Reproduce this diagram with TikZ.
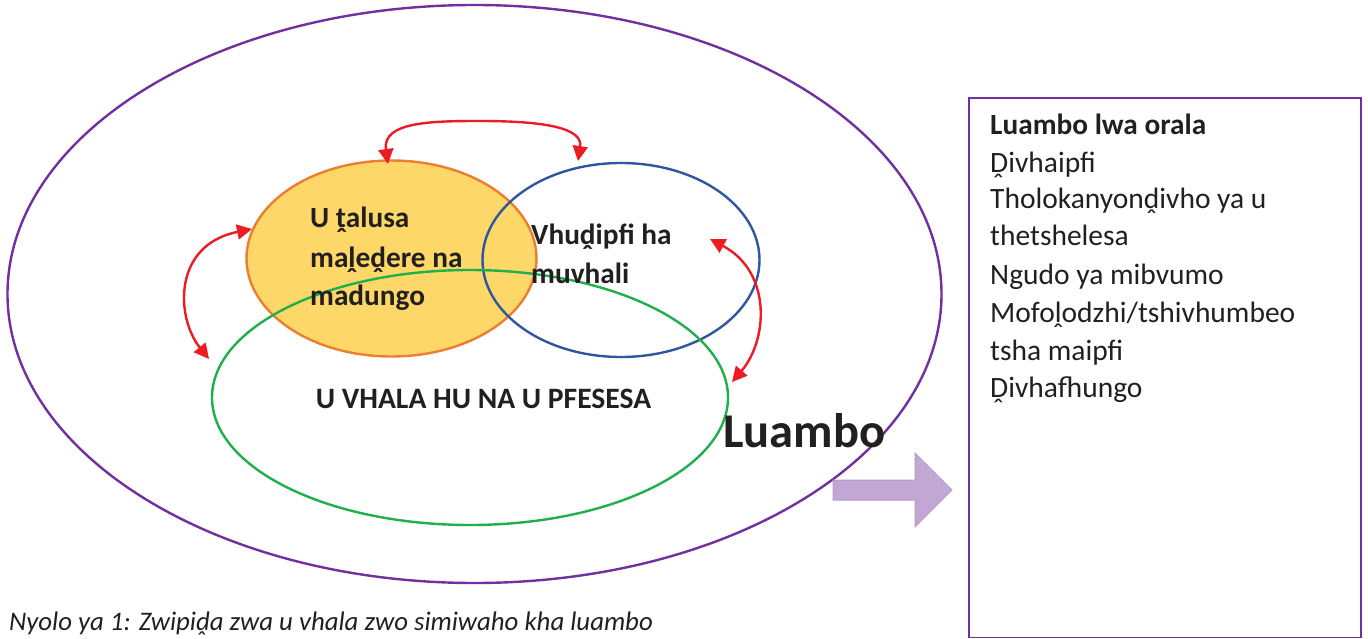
\documentclass[tikz,border=0pt]{standalone}
\usepackage{fontspec}
\setmainfont{Carlito}
\usetikzlibrary{shapes.geometric,arrows.meta}
\definecolor{outerpurple}{HTML}{7030A0}
\definecolor{orangeline}{HTML}{ED7D31}
\definecolor{goldfill}{HTML}{FDD868}
\definecolor{blueline}{HTML}{2F569E}
\definecolor{greenline}{HTML}{1FAF4B}
\definecolor{redarrow}{HTML}{ED1C24}
\definecolor{txt}{HTML}{231F20}
\definecolor{arrowfill}{HTML}{C2A6D4}
\definecolor{arrowline}{HTML}{B89BCB}
\tikzset{
  ring/.style={ellipse, inner sep=0pt, line width=2.4pt},
  link/.style={draw=redarrow, line width=2.4pt, {Triangle[length=15pt,width=15pt]}-{Triangle[length=15pt,width=15pt]}},
  boldtext/.style={anchor=base west, inner sep=0pt, text=txt, font=\bfseries\fontsize{29.3}{29.3}\selectfont},
  boxtext/.style={anchor=base west, inner sep=0pt, text=txt, font=\fontsize{29.5}{29.5}\selectfont},
}
\begin{document}
\begin{tikzpicture}[x=1pt,y=-1pt]
\useasboundingbox (0,0) rectangle (1368,639);
% outer ellipse
\node[ring, draw=outerpurple, minimum width=934pt, minimum height=578pt] (outer) at (474.5,294) {};
% gold ellipse
\node[ring, draw=orangeline, fill=goldfill, minimum width=290pt, minimum height=196pt] (gold) at (391.5,258.5) {};
% blue ellipse
\node[ring, draw=blueline, minimum width=277pt, minimum height=194pt] (blue) at (621,260) {};
% green ellipse
\node[ring, draw=greenline, minimum width=516pt, minimum height=255pt] (green) at (470,397.5) {};
% texts in ellipses
\node[boldtext] (t1) at (310,228) {U ṱalusa};
\node[boldtext] (t2) at (310,267) {maḽeḓere na};
\node[boldtext] (t3) at (310,305) {madungo};
\node[boldtext] (t4) at (531,244) {Vhuḓipfi ha};
\node[boldtext] (t5) at (531,283) {muvhali};
\node[anchor=base, inner sep=0pt, text=txt, font=\bfseries\fontsize{29.6}{29.6}\selectfont] (t6) at (483.5,408) {U VHALA HU NA U PFESESA};
\node[anchor=base west, inner sep=0pt, text=txt, font=\bfseries\fontsize{48.5}{48.5}\selectfont] (lu) at (723,447) {Luambo};
% red arrows
\coordinate (a1s) at (388,164);
\coordinate (a1e) at (578,161);
\draw[link] (a1s) .. controls (382,122) and (430,121) .. (480,121) .. controls (545,121) and (583,128) .. (a1e);
\coordinate (a2s) at (252,229);
\coordinate (a2e) at (209,359);
\draw[link] (a2s) .. controls (172,245) and (176,318) .. (a2e);
\coordinate (a3s) at (710,239);
\coordinate (a3e) at (732,382);
\draw[link] (a3s) .. controls (772,272) and (768,340) .. (a3e);
% side box
\node[draw=outerpurple, line width=1.6pt, minimum width=392pt, minimum height=539pt, inner sep=0pt, anchor=north west] (box) at (968,97.5) {};
\node[boxtext, font=\bfseries\fontsize{29.3}{29.3}\selectfont] (b1) at (990,135) {Luambo lwa orala};
\node[boxtext] (b2) at (990,173) {Ḓivhaipfi};
\node[boxtext] (b3) at (990,209) {Tholokanyonḓivho ya u};
\node[boxtext] (b4) at (990,246) {thetshelesa};
\node[boxtext] (b5) at (990,284) {Ngudo ya mibvumo};
\node[boxtext] (b6) at (990,322) {Mofoḽodzhi/tshivhumbeo};
\node[boxtext] (b7) at (990,360) {tsha maipfi};
\node[boxtext] (b8) at (990,397) {Ḓivhafhungo};
% block arrow
\coordinate (tip) at (952,490);
\filldraw[draw=arrowline, fill=arrowfill, line width=1pt, line join=miter]
  (833,480) -- (915,480) -- (915,453) -- (tip) -- (915,527) -- (915,500) -- (833,500) -- cycle;
% caption
\node[anchor=base west, inner sep=0pt, text=txt, font=\itshape\fontsize{26.8}{26.8}\selectfont] (cap) at (9,630) {Nyolo ya 1: Zwipiḓa zwa u vhala zwo simiwaho kha luambo};
\end{tikzpicture}
\end{document}
